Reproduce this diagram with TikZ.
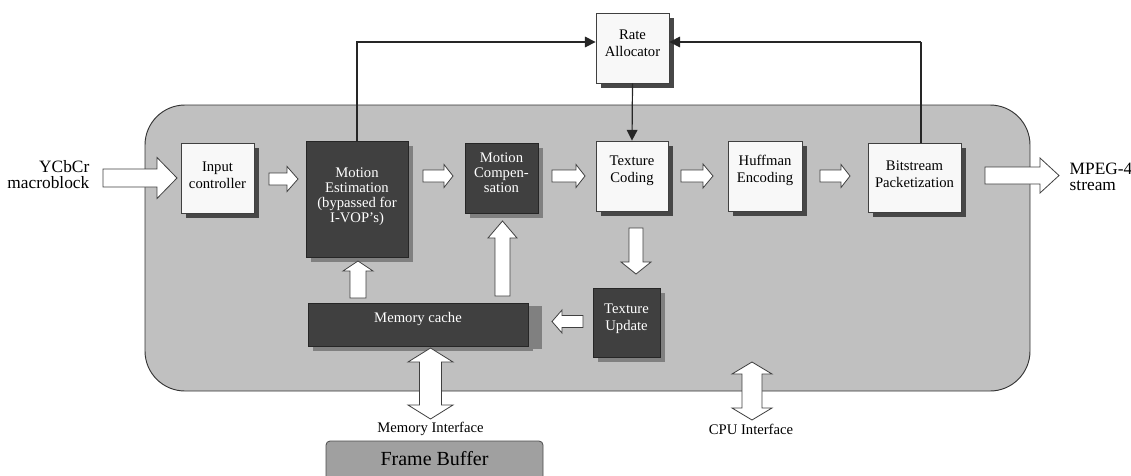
\documentclass[tikz,border=0pt]{standalone}
\usepackage{fontspec}
\setmainfont{Liberation Serif}
\usetikzlibrary{shadows,arrows.meta}
\definecolor{bggray}{HTML}{C0C0C0}
\definecolor{darkbox}{HTML}{404040}
\definecolor{lightbox}{HTML}{F8F8F8}
\definecolor{fbgray}{HTML}{A0A0A0}
\definecolor{edgegray}{HTML}{404040}
\newcommand\dn[1]{\rule[-#1pt]{0pt}{0pt}}
\tikzset{
  lbox/.style={draw=edgegray, line width=0.6pt, fill=lightbox, align=center, inner sep=1pt,
    font=\fontsize{11}{12.5}\selectfont,
    drop shadow={shadow xshift=3.75pt, shadow yshift=-3.75pt, fill=black!72, opacity=1}},
  dbox/.style={draw=black!85, line width=0.6pt, fill=darkbox, text=white, align=center, inner sep=1pt,
    font=\fontsize{11}{12.5}\selectfont,
    drop shadow={shadow xshift=3.75pt, shadow yshift=-3.75pt, fill=black!50, opacity=1}},
  barrow/.style={draw=black!75, line width=0.6pt, fill=white, line join=miter},
  fb/.style={-{Triangle[length=8pt,width=8pt]}, line width=0.9pt, black!85},
  lbl/.style={font=\fontsize{13}{12}\selectfont, align=left},
  ilbl/.style={font=\fontsize{11}{12}\selectfont}
}
% horizontal block arrow: x-tail, x-tip, y-centre, shaft, head width, head length
\newcommand\harr[6]{%
  \pgfmathsetmacro\aHs{#2-sign(#2-#1)*#6}%
  \pgfmathsetmacro\aYa{#3-#4/2}\pgfmathsetmacro\aYb{#3+#4/2}%
  \pgfmathsetmacro\aYc{#3-#5/2}\pgfmathsetmacro\aYd{#3+#5/2}%
  \draw[barrow] (#1,\aYa) -- (\aHs,\aYa) -- (\aHs,\aYc) -- (#2,#3) -- (\aHs,\aYd) -- (\aHs,\aYb) -- (#1,\aYb) -- cycle;}
% vertical block arrow: y-tail, y-tip, x-centre, shaft, head width, head length
\newcommand\varr[6]{%
  \pgfmathsetmacro\aHs{#2-sign(#2-#1)*#6}%
  \pgfmathsetmacro\aXa{#3-#4/2}\pgfmathsetmacro\aXb{#3+#4/2}%
  \pgfmathsetmacro\aXc{#3-#5/2}\pgfmathsetmacro\aXd{#3+#5/2}%
  \draw[barrow] (\aXa,#1) -- (\aXa,\aHs) -- (\aXc,\aHs) -- (#3,#2) -- (\aXd,\aHs) -- (\aXb,\aHs) -- (\aXb,#1) -- cycle;}
% double vertical block arrow: y-top, y-bottom, x-centre, shaft, head width, head length
\newcommand\dvarr[6]{%
  \pgfmathsetmacro\aHt{#1+#6}\pgfmathsetmacro\aHb{#2-#6}%
  \pgfmathsetmacro\aXa{#3-#4/2}\pgfmathsetmacro\aXb{#3+#4/2}%
  \pgfmathsetmacro\aXc{#3-#5/2}\pgfmathsetmacro\aXd{#3+#5/2}%
  \draw[barrow] (#3,#1) -- (\aXd,\aHt) -- (\aXb,\aHt) -- (\aXb,\aHb) -- (\aXd,\aHb) -- (#3,#2)
     -- (\aXc,\aHb) -- (\aXa,\aHb) -- (\aXa,\aHt) -- (\aXc,\aHt) -- cycle;}
\begin{document}
\begin{tikzpicture}[x=0.75pt,y=-0.75pt]
\useasboundingbox (0,0) rectangle (1131,475);
% background
\draw[fill=bggray, draw=black!80, line width=0.7pt, rounded corners=30pt] (145,105) rectangle (1030,391);
% frame buffer
\begin{scope}
\clip (0,0) rectangle (1131,475);
\draw[fill=fbgray, draw=black!70, line width=0.6pt, rounded corners=3pt] (326,441) rectangle (543,490);
\end{scope}
\node[font=\fontsize{15}{16}\selectfont] (fbuf) at (434.5,459) {Frame Buffer};
% boxes
\node[lbox, minimum width=73*0.75pt, minimum height=70*0.75pt] (ic) at (217.5,178) {Input\\controller\dn{4.5}};
\node[dbox, minimum width=102*0.75pt, minimum height=116*0.75pt, font=\fontsize{11}{11.3}\selectfont] (me) at (357,199) {Motion\\Estimation\\(bypassed for\\I-VOP's)\dn{6.3}};
\node[dbox, minimum width=73*0.75pt, minimum height=70*0.75pt, font=\fontsize{11}{11.3}\selectfont] (mc) at (501.5,178) {Motion\\Compen-\\sation\dn{8.2}};
\node[lbox, minimum width=72*0.75pt, minimum height=70*0.75pt] (tc) at (632,176) {Texture\\Coding\dn{9.9}};
\node[lbox, minimum width=74*0.75pt, minimum height=70*0.75pt] (he) at (765,176) {Huffman\\Encoding\dn{10.6}};
\node[lbox, minimum width=93*0.75pt, minimum height=69*0.75pt] (bp) at (914.5,177.5) {Bitstream\\Packetization\dn{5.2}};
\node[lbox, minimum width=73*0.75pt, minimum height=70*0.75pt] (ra) at (632.5,48) {Rate\\Allocator\dn{6.8}};
\node[dbox, minimum width=67*0.75pt, minimum height=69*0.75pt] (tu) at (626.5,322.5) {Texture\\Update\dn{7.6}};
\node[dbox, minimum width=220*0.75pt, minimum height=43*0.75pt, inner sep=0pt,
  drop shadow={shadow xshift=10.5pt, shadow yshift=-2.25pt, fill=black!50, opacity=1}] (mem) at (418,324.5) {Memory cache\dn{10.6}};
% feedback lines
\coordinate (k1) at (me.north |- 0,42);
\coordinate (k2) at (921,42);
\draw[fb] (me.north) -- (k1) -- (k1 -| ra.west);
\draw[line width=0.9pt, black!85] (bp.north -| k2) -- (k2);
\draw[fb] (k2) -- (k2 -| ra.east);
\draw[fb] (ra.south) -- (tc.north);
% block arrows
\harr{103}{177}{178}{18}{41}{20}
\harr{269}{298}{179}{12}{25}{11}
\harr{423}{453}{176}{12}{23}{9}
\harr{552}{585}{176}{12}{23}{9}
\harr{681}{713}{176}{12}{24}{10}
\harr{820}{850}{176}{12}{23}{9}
\harr{985}{1059}{175.5}{17}{35}{19}
\varr{228}{274}{636}{14}{30}{12}
\harr{583}{552}{321.5}{12}{23}{10}
\varr{298}{261}{358}{16}{30}{10}
\varr{296}{221}{502.5}{15}{29}{17}
\dvarr{348}{419}{430.5}{22}{45}{14}
\dvarr{362}{420}{752}{20}{40}{12}
% labels
\node[lbl, anchor=east, align=right] (yc) at (94,175) {YCbCr\\macroblock};
\node[lbl, anchor=west] (mp) at (1065,177) {MPEG-4\\stream};
\node[ilbl] (mi) at (430.5,429) {Memory Interface};
\node[ilbl] (ci) at (751,429) {CPU Interface};
\end{tikzpicture}
\end{document}
